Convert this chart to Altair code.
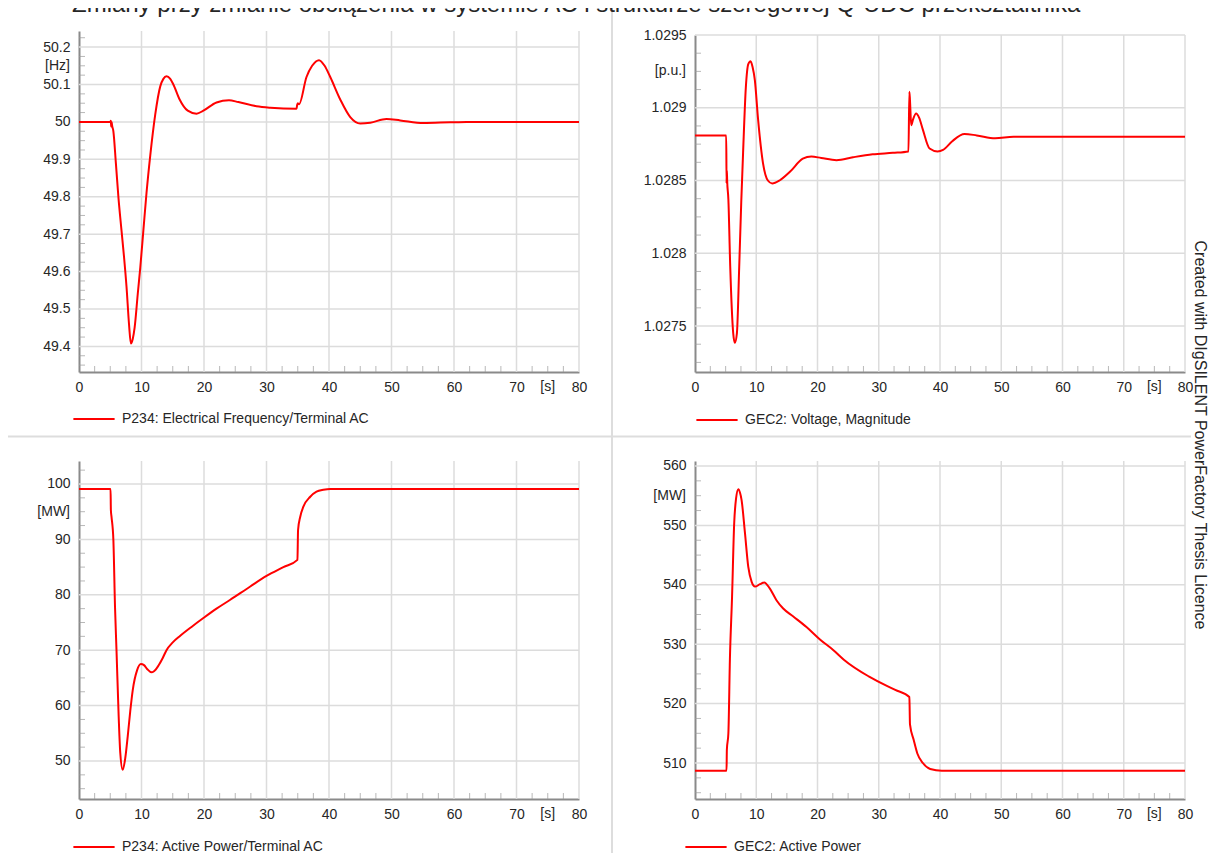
import altair as alt
import pandas as pd

# ---------------- data ----------------
freq_t = [0, 5.0, 5.1, 5.15, 5.2, 5.25, 5.3, 5.5, 5.9, 6.3, 6.8, 7.2, 7.6, 8.0, 8.3, 8.6, 8.9, 9.4, 9.8, 10.3,
          10.8, 11.4, 12.2, 13.0, 13.5, 14.0, 14.6, 15.1, 16.1, 17.4, 18.8, 19.9, 22.0, 24.0, 25.5, 28.4, 30.6,
          34.8, 34.9, 35.0, 35.2, 36.4, 37.3, 38.4, 39.3, 40.2, 41.8, 43.4, 45.0, 46.6, 49.2, 51.4, 55.1, 59.4,
          62.0, 80.0]
freq_v = [50.0, 50.0, 50.003, 49.988, 50.0, 49.996, 49.99, 49.975, 49.89, 49.80, 49.71, 49.64, 49.56, 49.46,
          49.408, 49.42, 49.45, 49.54, 49.61, 49.71, 49.81, 49.91, 50.02, 50.095, 50.115, 50.122, 50.115, 50.10,
          50.06, 50.03, 50.022, 50.03, 50.052, 50.058, 50.053, 50.042, 50.038, 50.035, 50.045, 50.05, 50.047,
          50.12, 50.15, 50.165, 50.15, 50.12, 50.06, 50.013, 49.996, 49.998, 50.008, 50.004, 49.997, 49.999,
          50.0, 50.0]

volt_t = [0, 5.1, 5.15, 5.2, 5.25, 5.45, 5.75, 6.24, 6.5, 6.84, 7.22, 7.55, 7.85, 8.3, 8.7, 9.07, 9.4, 9.77,
          10.3, 11.1, 11.9, 12.6, 13.8, 15.5, 17.6, 19.0, 20.6, 23.1, 25.8, 29.0, 32.3, 34.85, 35.0, 35.1, 35.3,
          35.6, 36.1, 36.6, 37.2, 38.3, 39.6, 40.5, 42.0, 44.0, 46.0, 49.0, 52.0, 80.0]
volt_v = [1.02881, 1.02881, 1.02848, 1.02857, 1.0285, 1.02837, 1.02791, 1.02745, 1.027385, 1.02745, 1.02791,
          1.02835, 1.02869, 1.02914, 1.0293, 1.02932, 1.02928, 1.02919, 1.02892, 1.02862, 1.0285, 1.02848,
          1.0285, 1.02856, 1.02865, 1.028665, 1.028655, 1.02864, 1.02866, 1.02868, 1.02869, 1.0287, 1.02911,
          1.02905, 1.02888, 1.02892, 1.02896, 1.02893, 1.02885, 1.02872, 1.0287, 1.02871, 1.02877, 1.02882,
          1.02881, 1.02879, 1.0288, 1.0288]

p234_t = [0, 5.05, 5.1, 5.2, 5.5, 5.76, 6.0, 6.35, 6.6, 6.99, 7.4, 7.8, 8.2, 8.6, 9.3, 9.9, 10.4, 10.9, 11.6,
          12.0, 12.7, 13.4, 14.0, 15.0, 16.2, 18.0, 19.9, 22.0, 24.2, 27.4, 30.0, 32.7, 34.95, 35.05, 35.4, 35.9,
          37.0, 38.0, 39.1, 40.2, 80.0]
p234_v = [99.1, 99.1, 95.3, 94.1, 89.9, 77.9, 70.0, 58.0, 51.5, 48.4, 50.5, 54.5, 59.0, 62.8, 66.4, 67.5, 67.3,
          66.6, 66.0, 66.2, 67.2, 68.6, 70.0, 71.4, 72.6, 74.2, 75.8, 77.5, 79.1, 81.5, 83.4, 85.0, 86.3, 91.7,
          94.1, 95.9, 97.7, 98.6, 98.95, 99.1, 99.1]

gec2_t = [0, 5.15, 5.2, 5.45, 5.7, 6.05, 6.4, 6.7, 7.07, 7.35, 7.6, 8.16, 8.7, 9.25, 9.8, 10.6, 11.3, 12.2, 13.3,
          14.4, 16.0, 18.2, 20.4, 22.6, 24.3, 28.5, 32.7, 35.0, 35.1, 35.7, 36.3, 37.2, 38.4, 40.3, 80.0]
gec2_v = [508.7, 508.7, 512.2, 515.0, 527.5, 538.0, 550.4, 554.5, 556.1, 555.5, 554.3, 548.7, 543.0, 540.5,
          539.7, 540.1, 540.4, 539.4, 537.4, 536.0, 534.7, 532.9, 530.8, 529.0, 527.4, 524.5, 522.3, 521.1,
          516.5, 513.9, 511.6, 510.0, 509.0, 508.7, 508.7]

series_names = ["P234: Electrical Frequency/Terminal AC", "GEC2: Voltage, Magnitude",
                "P234: Active Power/Terminal AC", "GEC2: Active Power"]
units = ["[Hz]", "[p.u.]", "[MW]", "[MW]"]
x_ticks = [0, 10, 20, 30, 40, 50, 60, 70, 80]
freq_ticks = [49.4, 49.5, 49.6, 49.7, 49.8, 49.9, 50.0, 50.1, 50.2]
volt_ticks = [1.0275, 1.028, 1.0285, 1.029, 1.0295]
p234_ticks = [50, 60, 70, 80, 90, 100]
gec2_ticks = [510, 520, 530, 540, 550, 560]

title_text = "Zmiany przy zmianie obciążenia w systemie AC i strukturze szeregowej Q-UDC przekształtnika"
credit_text = "Created with DIgSILENT PowerFactory Thesis Licence"

# ---------------- styling ----------------
W, H = 1201, 845
FONT = "Liberation Sans"
RED = "#ff0000"
GRID = "#dcdcdc"
AXIS = "#8a8a8a"
TICK = "#9a9a9a"
TXT = "#262626"


def minor_values(lo, hi, step, majors):
    out = []
    k = int(round(lo / step)) - 1
    while k * step <= hi + 1e-12:
        val = round(k * step, 6)
        if lo <= val <= hi and all(abs(val - m) > step / 10 for m in majors):
            out.append(val)
        k += 1
    return out


def panel(t, v, name, unit, xr, ydom, yr, yticks, ystep, unit_at, leg_x, leg_y):
    xs = alt.Scale(domain=[0, 80], range=xr, nice=False, zero=False)
    ys = alt.Scale(domain=ydom, range=yr, nice=False, zero=False)
    common = dict(grid=False, ticks=False, tickSize=0, domainColor=AXIS, domainWidth=2,
                  labelFont=FONT, labelFontSize=14, labelColor=TXT, labelFlush=False,
                  labelOverlap=False, title=None, format="~r")
    xaxis = alt.Axis(orient="bottom", offset=yr[0] - H, values=x_ticks, labelPadding=8, **common)
    yaxis = alt.Axis(orient="left", offset=-xr[0], values=yticks, labelPadding=9, **common)

    def xd(val):
        return alt.XDatum(datum=val, type="quantitative", scale=xs, axis=xaxis)

    def yd(val):
        return alt.YDatum(datum=val, type="quantitative", scale=ys, axis=yaxis)

    hgrid = alt.Chart(pd.DataFrame({"g": yticks})).mark_rule(color=GRID, strokeWidth=1.5).encode(
        y=alt.Y("g:Q", scale=ys, axis=yaxis), x=xd(0), x2=alt.X2Datum(80))
    vgrid = alt.Chart(pd.DataFrame({"g": x_ticks[1:]})).mark_rule(color=GRID, strokeWidth=1.5).encode(
        x=alt.X("g:Q", scale=xs, axis=xaxis), y=yd(ydom[0]), y2=alt.Y2Datum(ydom[1]))
    yminor = alt.Chart(pd.DataFrame({"m": minor_values(ydom[0], ydom[1], ystep, yticks)})).mark_tick(
        orient="horizontal", size=6, thickness=1, xOffset=3, color=TICK).encode(
        y=alt.Y("m:Q", scale=ys, axis=yaxis), x=xd(0))
    xminor = alt.Chart(pd.DataFrame({"m": minor_values(0, 80, 2.5, x_ticks)})).mark_tick(
        orient="vertical", size=6, thickness=1, yOffset=-3, color=TICK).encode(
        x=alt.X("m:Q", scale=xs, axis=xaxis), y=yd(ydom[0]))
    line = alt.Chart(pd.DataFrame({"t": t, "v": v, "s": name})).mark_line(
        strokeWidth=2, interpolate="monotone").encode(
        x=alt.X("t:Q", scale=xs, axis=xaxis),
        y=alt.Y("v:Q", scale=ys, axis=yaxis),
        color=alt.Color("s:N", scale=alt.Scale(range=[RED]),
                        legend=alt.Legend(orient="none", legendX=leg_x, legendY=leg_y, title=None,
                                          symbolType="stroke", symbolSize=1700, symbolStrokeWidth=2,
                                          labelFont=FONT, labelFontSize=14, labelColor=TXT,
                                          labelOffset=6, labelLimit=0, padding=0)))
    unit_lbl = alt.Chart(pd.DataFrame({"u": [unit]})).mark_text(
        align="right", baseline="middle", dx=-9, font=FONT, fontSize=14, color=TXT).encode(
        text="u:N", x=xd(0), y=yd(unit_at))
    sec_lbl = alt.Chart(pd.DataFrame({"u": ["[s]"]})).mark_text(
        align="center", baseline="top", dy=8, font=FONT, fontSize=14, color=TXT).encode(
        text="u:N", x=xd(75), y=yd(ydom[0]))
    return alt.layer(hgrid, vgrid, yminor, xminor, line, unit_lbl, sec_lbl)


p1 = panel(freq_t, freq_v, series_names[0], units[0], [71, 571], [49.3316, 50.243], [364, 23],
           freq_ticks, 0.025, 50.15, 64, 389)
p2 = panel(volt_t, volt_v, series_names[1], units[1], [687, 1177], [1.027184, 1.0295], [364, 27],
           volt_ticks, 0.000125, 1.02925, 687, 390)
p3 = panel(p234_t, p234_v, series_names[2], units[2], [71, 571], [43.14, 104.15], [791, 453],
           p234_ticks, 2.5, 95, 64, 817)
p4 = panel(gec2_t, gec2_v, series_names[3], units[3], [687, 1177], [503.94, 560.84], [791, 453],
           gec2_ticks, 2.5, 555, 676, 817)

one = pd.DataFrame({"k": [0]})
sep_h = alt.Chart(one).mark_rule(color="#dddddd", strokeWidth=2).encode(
    x=alt.value(0), x2=alt.value(1183), y=alt.value(428.5))
sep_v = alt.Chart(one).mark_rule(color="#dddddd", strokeWidth=2).encode(
    x=alt.value(604), y=alt.value(0), y2=alt.value(H))
credit = alt.Chart(pd.DataFrame({"c": [credit_text]})).mark_text(
    angle=90, align="center", baseline="middle", font=FONT, fontSize=16, color=TXT).encode(
    text="c:N", x=alt.value(1192), y=alt.value(427))
title = alt.Chart(pd.DataFrame({"c": [title_text]})).mark_text(
    align="left", baseline="alphabetic", font=FONT, fontSize=24, color=TXT).encode(
    text="c:N", x=alt.value(64), y=alt.value(4))

chart = alt.layer(sep_h, sep_v, p1, p2, p3, p4, credit, title).resolve_scale(
    x="independent", y="independent", color="independent").resolve_legend(
    color="independent").properties(
    width=W, height=H, padding=0, autosize=alt.AutoSizeParams(type="none"),
    background="white").configure_view(stroke=None)

chart.save("out.html", embed_options={"renderer": "svg", "actions": False})
